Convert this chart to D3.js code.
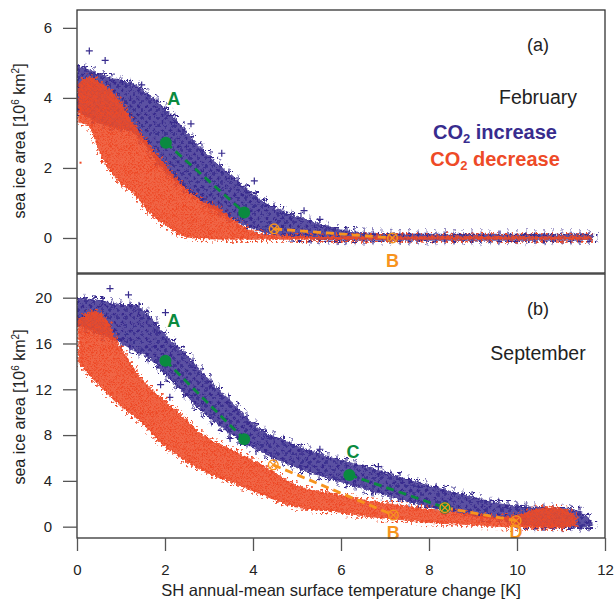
<!DOCTYPE html>
<html lang="en">
<head>
<meta charset="UTF-8">
<title>SH sea ice area vs temperature change</title>
<script src="https://d3js.org/d3.v7.min.js"></script>
<style>
  body { margin: 0; background: #fff; }
  svg { display: block; font-family: "Liberation Sans", Arial, Helvetica, sans-serif; }
</style>
</head>
<body>
<svg id="chart" width="614" height="601"></svg>
<script>
// cloud envelopes: x, upper edge, lower edge
const febIncX  = [0, 0.3, 0.67, 1.28, 2.04, 2.8, 3.55, 4.31, 5.07, 5.5, 6.0, 6.45, 7.3, 9, 11.73];
const febIncHi = [4.95, 4.8, 4.62, 4.4, 3.66, 2.6, 1.75, 1.0, 0.6, 0.42, 0.24, 0.17, 0.13, 0.12, 0.12];
const febIncLo = [3.6, 3.4, 3.2, 3.0, 1.85, 1.08, 0.51, 0.13, 0.0, -0.06, -0.08, -0.08, -0.08, -0.08, -0.08];

const febDecX  = [0.03, 0.25, 0.52, 0.9, 1.28, 1.66, 2.04, 2.42, 2.8, 3.17, 3.55, 3.93, 4.31, 5, 8, 11.7];
const febDecHi = [4.4, 4.6, 4.45, 4.04, 3.28, 2.61, 2.04, 1.47, 1.09, 0.9, 0.51, 0.23, 0.1, 0.06, 0.05, 0.05];
const febDecLo = [3.3, 3.2, 2.42, 1.66, 1.27, 0.7, 0.32, 0.04, -0.03, -0.04, -0.05, -0.05, -0.05, -0.05, -0.05, -0.05];

const sepIncX  = [0, 0.52, 0.9, 1.28, 1.66, 2.04, 2.42, 2.8, 3.17, 3.55, 3.93, 4.31, 4.69, 5.07, 5.83, 6.58, 7.34, 8.1, 8.86, 9.61, 10.37, 11.13, 11.5, 11.73];
const sepIncHi = [20.0, 19.8, 19.5, 19.4, 18.4, 16.6, 15.3, 13.7, 12.2, 10.8, 9.3, 8.2, 7.6, 7.0, 6.0, 5.25, 4.37, 3.5, 2.77, 2.04, 1.75, 1.6, 1.2, 0.3];
const sepIncLo = [17.5, 16.8, 16.2, 15.4, 14.6, 13.1, 11.7, 10.2, 9.0, 7.9, 7.0, 6.27, 5.6, 5.0, 4.08, 3.2, 2.33, 1.6, 1.02, 0.58, 0.0, -0.1, -0.1, 0.1];

const sepDecX  = [0.03, 0.38, 0.67, 0.9, 1.13, 1.43, 1.89, 2.42, 2.8, 3.55, 4.31, 5.07, 5.83, 6.58, 7.34, 8.1, 8.86, 9.61, 10.0, 10.37, 10.75, 11.13, 11.35];
const sepDecHi = [18.1, 18.8, 18.1, 16.3, 14.9, 13.1, 11.4, 9.6, 8.2, 6.7, 5.2, 3.5, 2.9, 2.33, 1.9, 1.46, 1.17, 0.87, 1.02, 1.46, 1.75, 1.46, 0.87];
const sepDecLo = [14.3, 12.8, 11.7, 10.8, 10.1, 9.2, 7.3, 5.83, 4.96, 3.8, 2.6, 1.6, 1.3, 0.87, 0.58, 0.3, 0.15, 0.0, -0.1, -0.14, -0.15, -0.1, 0.2];

// stray members outside the dense clouds
const febIncOutX = [0.28, 0.64, 1.47, 2.59, 3.29, 4.03, 5.16, 5.52];
const febIncOutY = [5.34, 5.07, 4.37, 3.26, 2.42, 1.63, 0.78, 0.53];
const sepIncOutX = [0.75, 1.17, 2.01, 1.9, 2.11, 3.48, 5.52, 6.85];
const sepIncOutY = [20.8, 20.25, 18.7, 12.4, 11.3, 7.7, 6.76, 5.25];
const febDecOutX = [0.08];
const febDecOutY = [2.15];
const sepDecOutX = [3.82];
const sepDecOutY = [5.63];

// transition paths
const febGreen  = [[[2.02, 2.72], [3.8, 0.73]]];
const febOrange = [[[4.48, 0.26], [7.17, 0.0]]];
const sepGreen  = [[[2.01, 14.5], [3.8, 7.64]], [[6.19, 4.52], [8.36, 1.66]]];
const sepOrange = [[[4.46, 5.4], [7.19, 1.02]], [[8.36, 1.66], [9.98, 0.52]]];
const febDots   = [[2.02, 2.72], [3.8, 0.73]];
const febCross  = [[4.48, 0.26], [7.17, 0.0]];
const sepDots   = [[2.01, 14.5], [3.8, 7.64], [6.19, 4.52], [8.36, 1.66]];
const sepCross  = [[4.46, 5.4], [7.19, 1.02], [8.36, 1.66], [9.98, 0.52]];
const febLabels = [["A", 2.2, 3.97, "g"], ["B", 7.17, -0.63, "o"]];
const sepLabels = [["A", 2.2, 18.0, "g"], ["C", 6.27, 6.56, "g"], ["B", 7.19, -0.55, "o"], ["D", 9.98, -0.44, "o"]];

const febTicks = [0, 2, 4, 6];
const sepTicks = [0, 4, 8, 12, 16, 20];
const xTicks = [0, 2, 4, 6, 8, 10, 12];
const xMinor = d3.range(0, 12.01, 0.5);

const blue = "#382c8e", red = "#ee4a27", green = "#0a8a40", orange = "#f7941e", ink = "#222";

const svg = d3.select("#chart");
const x = d3.scaleLinear().domain([0, 12]).range([77, 605]);

const defs = svg.append("defs");
// dense cores
const pInc = defs.append("pattern").attr("id", "plusFill")
  .attr("patternUnits", "userSpaceOnUse").attr("width", 8).attr("height", 8);
pInc.append("rect").attr("width", 8).attr("height", 8).attr("fill", blue).attr("fill-opacity", 0.82);
pInc.append("path").attr("d", "M0.5,2.5H4.5M2.5,0.5V4.5M4,6H8M6,4V8")
  .attr("stroke", blue).attr("stroke-width", 1.3);
const pDec = defs.append("pattern").attr("id", "dotFill")
  .attr("patternUnits", "userSpaceOnUse").attr("width", 4).attr("height", 4);
pDec.append("rect").attr("width", 4).attr("height", 4).attr("fill", red).attr("fill-opacity", 0.85);
pDec.append("rect").attr("width", 1.6).attr("height", 1.6).attr("fill", red);
pDec.append("rect").attr("x", 2).attr("y", 2).attr("width", 1.6).attr("height", 1.6).attr("fill", red);
// sparse fringes
const sInc = defs.append("pattern").attr("id", "plusSparse")
  .attr("patternUnits", "userSpaceOnUse").attr("width", 9).attr("height", 7);
sInc.append("path").attr("d", "M1,3.5H7M4,0.5V6.5").attr("stroke", blue).attr("stroke-width", 1.2);
const sDec = defs.append("pattern").attr("id", "dotSparse")
  .attr("patternUnits", "userSpaceOnUse").attr("width", 5).attr("height", 4);
sDec.append("rect").attr("x", 1).attr("y", 1).attr("width", 1.8).attr("height", 1.8).attr("fill", red);

const rough = defs.append("filter").attr("id", "rough")
  .attr("x", "-5%").attr("y", "-5%").attr("width", "110%").attr("height", "110%");
rough.append("feTurbulence").attr("type", "fractalNoise").attr("baseFrequency", 0.45)
  .attr("numOctaves", 2).attr("seed", 4).attr("result", "n");
rough.append("feDisplacementMap").attr("in", "SourceGraphic").attr("in2", "n")
  .attr("scale", 5).attr("xChannelSelector", "R").attr("yChannelSelector", "G");

function drawPanel(p) {
  const y = d3.scaleLinear().domain(p.domain).range([p.bottom, p.top]);
  const g = svg.append("g");
  const clipId = "clip" + p.name;
  defs.append("clipPath").attr("id", clipId).append("rect")
    .attr("x", x(0)).attr("y", p.top).attr("width", x(12) - x(0)).attr("height", p.bottom - p.top);
  const plot = g.append("g").attr("clip-path", `url(#${clipId})`);

  const area = d3.area().curve(d3.curveMonotoneX)
    .x(d => x(d[0])).y0(d => y(d[2])).y1(d => y(d[1]));

  const inc = p.incX.map((v, i) => [v, p.incHi[i], p.incLo[i]]);
  const dec = p.decX.map((v, i) => [v, p.decHi[i], p.decLo[i]]);

  const incG = plot.append("g").attr("filter", "url(#rough)");
  incG.append("path").datum(inc).attr("d", area).attr("fill", "none")
    .attr("stroke", "url(#plusSparse)").attr("stroke-width", 9).attr("stroke-linejoin", "round");
  incG.append("path").datum(inc).attr("d", area).attr("fill", "url(#plusFill)");
  plot.selectAll(".incOut").data(p.incOutX.map((v, i) => [v, p.incOutY[i]])).join("path")
    .attr("d", d => `M${x(d[0]) - 3.5},${y(d[1])}h7M${x(d[0])},${y(d[1]) - 3.5}v7`)
    .attr("stroke", blue).attr("stroke-width", 1.2);

  const decG = plot.append("g").attr("filter", "url(#rough)");
  decG.append("path").datum(dec).attr("d", area).attr("fill", "none")
    .attr("stroke", "url(#dotSparse)").attr("stroke-width", 7).attr("stroke-linejoin", "round");
  decG.append("path").datum(dec).attr("d", area).attr("fill", "url(#dotFill)");
  plot.selectAll(".decOut").data(p.decOutX.map((v, i) => [v, p.decOutY[i]])).join("rect")
    .attr("x", d => x(d[0]) - 1).attr("y", d => y(d[1]) - 1).attr("width", 2).attr("height", 2)
    .attr("fill", red);

  const line = d3.line().x(d => x(d[0])).y(d => y(d[1]));
  plot.selectAll(".gl").data(p.green).join("path").attr("d", line)
    .attr("stroke", green).attr("stroke-width", 2.8).attr("stroke-dasharray", "8,5").attr("fill", "none");
  plot.selectAll(".ol").data(p.orange).join("path").attr("d", line)
    .attr("stroke", orange).attr("stroke-width", 2.8).attr("stroke-dasharray", "8,5").attr("fill", "none");
  plot.selectAll(".dot").data(p.dots).join("circle")
    .attr("cx", d => x(d[0])).attr("cy", d => y(d[1])).attr("r", 6).attr("fill", green);
  const cross = plot.selectAll(".cross").data(p.cross).join("g")
    .attr("transform", d => `translate(${x(d[0])},${y(d[1])})`);
  cross.append("circle").attr("r", 4.8).attr("fill", "none").attr("stroke", orange).attr("stroke-width", 1.4);
  cross.append("path").attr("d", "M-3.4,-3.4L3.4,3.4M-3.4,3.4L3.4,-3.4")
    .attr("stroke", orange).attr("stroke-width", 1.2);

  g.selectAll(".lab").data(p.labels).join("text")
    .attr("x", d => x(d[1])).attr("y", d => y(d[2])).attr("dy", "0.36em")
    .attr("text-anchor", "middle").attr("font-weight", "bold").attr("font-size", 18)
    .attr("fill", d => d[3] === "g" ? green : orange).text(d => d[0]);

  // frame
  g.append("rect").attr("x", x(0)).attr("y", p.top).attr("width", x(12) - x(0))
    .attr("height", p.bottom - p.top).attr("fill", "none").attr("stroke", "#333").attr("stroke-width", 1.3);

  const ax = g.append("g").attr("transform", `translate(${x(0)},0)`)
    .call(d3.axisLeft(y).tickValues(p.ticks).tickSize(14).tickPadding(11).tickSizeOuter(0));
  ax.select(".domain").remove();
  ax.selectAll(".tick line").attr("stroke", "#555").attr("stroke-width", 1.3);
  ax.selectAll(".tick text").attr("font-size", 15).attr("fill", ink).attr("font-family", null);

  const yl = g.append("text").attr("transform", `translate(19,${p.labelY}) rotate(-90)`)
    .attr("text-anchor", "middle").attr("dy", "0.35em").attr("font-size", 16).attr("fill", ink);
  yl.append("tspan").text("sea ice area [10");
  yl.append("tspan").attr("font-size", 10).attr("dy", -6).text("6");
  yl.append("tspan").attr("dy", 6).text(" km");
  yl.append("tspan").attr("font-size", 10).attr("dy", -6).text("2");
  yl.append("tspan").attr("dy", 6).text("]");

  g.append("text").attr("x", 538).attr("y", p.tagY).attr("dy", "0.36em").attr("text-anchor", "middle")
    .attr("font-size", 18).attr("fill", ink).text(p.tag);
  g.append("text").attr("x", p.monthX).attr("y", p.monthY).attr("dy", "0.36em").attr("text-anchor", "middle")
    .attr("font-size", 19.5).attr("fill", ink).text(p.month);
  return y;
}

drawPanel({
  name: "a", top: 10, bottom: 273, domain: [-1, 6.51], ticks: febTicks, labelY: 141,
  incX: febIncX, incHi: febIncHi, incLo: febIncLo, decX: febDecX, decHi: febDecHi, decLo: febDecLo,
  incOutX: febIncOutX, incOutY: febIncOutY, decOutX: febDecOutX, decOutY: febDecOutY,
  green: febGreen, orange: febOrange, dots: febDots, cross: febCross, labels: febLabels,
  tag: "(a)", tagY: 45, month: "February", monthX: 538, monthY: 97
});
drawPanel({
  name: "b", top: 274, bottom: 538, domain: [-0.99, 22.07], ticks: sepTicks, labelY: 407,
  incX: sepIncX, incHi: sepIncHi, incLo: sepIncLo, decX: sepDecX, decHi: sepDecHi, decLo: sepDecLo,
  incOutX: sepIncOutX, incOutY: sepIncOutY, decOutX: sepDecOutX, decOutY: sepDecOutY,
  green: sepGreen, orange: sepOrange, dots: sepDots, cross: sepCross, labels: sepLabels,
  tag: "(b)", tagY: 309, month: "September", monthX: 538, monthY: 353
});

// legend in panel (a)
const legend = [["CO", "2", " increase", blue, 139], ["CO", "2", " decrease", red, 166]];
legend.forEach(([a, sub, b, col, yy]) => {
  const t = svg.append("text").attr("x", 495).attr("y", yy).attr("text-anchor", "middle")
    .attr("font-size", 20).attr("font-weight", "bold").attr("fill", col);
  t.append("tspan").text(a);
  t.append("tspan").attr("font-size", 13).attr("dy", 4).text(sub);
  t.append("tspan").attr("dy", -4).text(b);
});

// shared x axis
const xa = svg.append("g").attr("transform", "translate(0,538)");
xa.call(d3.axisBottom(x).tickValues(xMinor).tickSize(7).tickFormat(""));
xa.call(d3.axisBottom(x).tickValues(xTicks).tickSize(13).tickPadding(13).tickFormat(d3.format("d")));
xa.selectAll(".domain").remove();
xa.selectAll(".tick line").attr("stroke", "#555").attr("stroke-width", 1.3);
xa.selectAll(".tick text").attr("font-size", 15).attr("fill", ink).attr("font-family", null);
svg.append("text").attr("x", 341).attr("y", 596).attr("text-anchor", "middle")
  .attr("font-size", 16.5).attr("fill", ink).text("SH annual-mean surface temperature change [K]");
</script>
</body>
</html>
